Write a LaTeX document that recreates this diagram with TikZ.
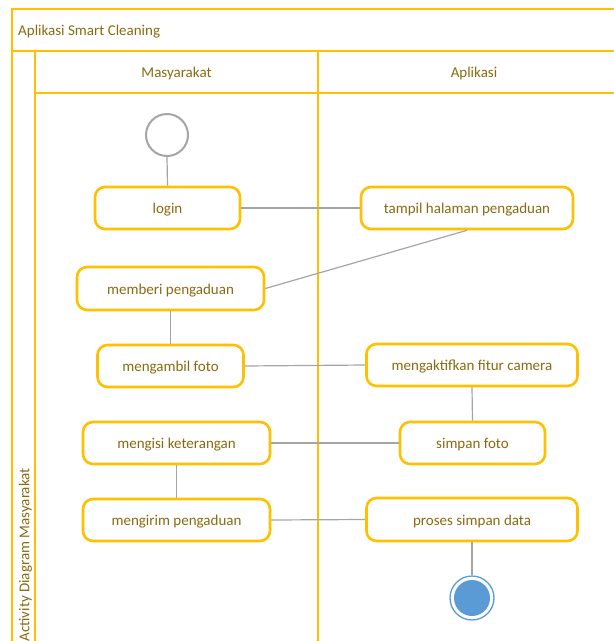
\documentclass[tikz,border=0pt]{standalone}
\usepackage{fontspec}
\setmainfont{Carlito}
\begin{document}
\begin{tikzpicture}[x=1pt,y=-1pt,
  lane/.style={draw=laneY,line width=2.2pt},
  act/.style={draw=laneY,line width=2.6pt,rounded corners=10pt,fill=white,text=txtC,font=\fontsize{15}{18}\selectfont,inner sep=0pt,text height=11pt,text depth=0pt},
  conn/.style={draw=connG,line width=1.2pt},
  lbl/.style={text=txtC,font=\fontsize{15}{18}\selectfont,inner sep=0pt,text height=11pt,text depth=0pt}]
\definecolor{laneY}{HTML}{FFC000}
\definecolor{txtC}{HTML}{8A6A10}
\definecolor{connG}{HTML}{A5A5A5}
\definecolor{endB}{HTML}{5B9BD5}
\useasboundingbox (0,0) rectangle (614,641);
\clip (0,0) rectangle (614,641);
% frame
\draw[lane] (12,660) -- (12,9) -- (640,9);
\draw[lane] (12,51) -- (640,51);
\draw[lane] (35,93) -- (640,93);
\draw[lane] (35,660) -- (35,51);
\draw[lane] (318,660) -- (318,51);
\node[lbl,anchor=west] (title) at (18,30) {Aplikasi Smart Cleaning};
\node[lbl] (laneA) at (176.5,72) {Masyarakat};
\node[lbl] (laneB) at (474,72) {Aplikasi};
\node[lbl,rotate=90,anchor=east] (side) at (24,468) {Activity Diagram Masyarakat};
% nodes
\node[circle,draw=connG,line width=2pt,fill=white,minimum size=42pt,inner sep=0pt] (start) at (167,135) {};
\node[act,minimum width=145pt,minimum height=42pt] (login) at (167.5,208) {login};
\node[act,minimum width=212pt,minimum height=42pt] (tampil) at (467,208) {tampil halaman pengaduan};
\node[act,minimum width=187pt,minimum height=43pt] (memberi) at (170.5,288.5) {memberi pengaduan};
\node[act,minimum width=146pt,minimum height=42pt] (ambil) at (170.5,366) {mengambil foto};
\node[act,minimum width=211pt,minimum height=42pt] (aktif) at (472,365) {mengaktifkan fitur camera};
\node[act,minimum width=187pt,minimum height=42pt] (isi) at (176.5,443) {mengisi keterangan};
\node[act,minimum width=145pt,minimum height=42pt] (simpan) at (472.5,443) {simpan foto};
\node[act,minimum width=187pt,minimum height=42pt] (kirim) at (176.5,520) {mengirim pengaduan};
\node[act,minimum width=211pt,minimum height=43pt] (proses) at (472,519.5) {proses simpan data};
\node[circle,draw=endB,line width=1.3pt,fill=white,minimum size=44pt,inner sep=0pt] (end) at (472,598) {};
\node[circle,fill=endB,minimum size=36pt,inner sep=0pt] (endin) at (end.center) {};
% connectors
\draw[conn] (start.south) -- (login.north);
\draw[conn] (login.east) -- (tampil.west);
\draw[conn] (tampil.south) -- (memberi.east);
\draw[conn] (memberi.south) -- (ambil.north);
\draw[conn] (ambil.east) -- (aktif.west);
\draw[conn] (aktif.south) -- (simpan.north);
\draw[conn] (simpan.west) -- (isi.east);
\draw[conn] (isi.south) -- (kirim.north);
\draw[conn] (kirim.east) -- (proses.west);
\draw[conn] (proses.south) -- (end.north);
\end{tikzpicture}
\end{document}
